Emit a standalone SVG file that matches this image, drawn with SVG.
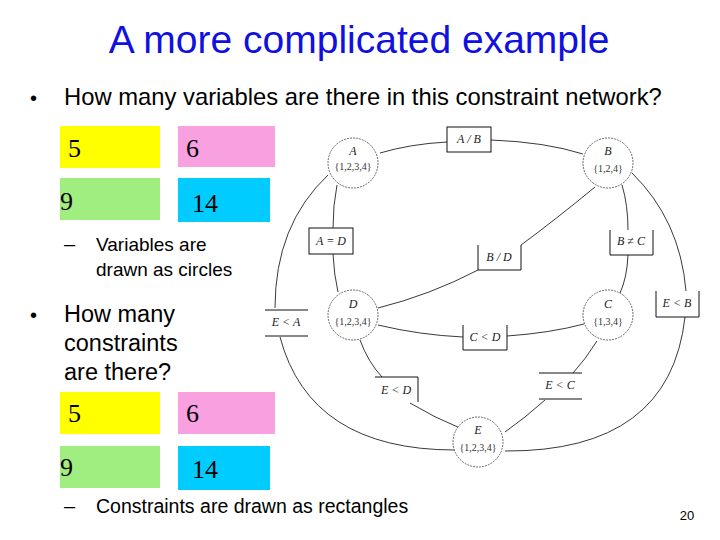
<svg xmlns="http://www.w3.org/2000/svg" width="720" height="540" viewBox="0 0 720 540">
<style>
.t{font-family:"Liberation Sans",Arial,sans-serif;fill:#000}
.n{font-family:"Liberation Serif","Times New Roman",serif;font-size:26px;fill:#000}
.c{fill:#fff;stroke:#444;stroke-width:0.8;stroke-dasharray:2 1}
.b{fill:none;stroke:#111;stroke-width:1}
.e{fill:none;stroke:#222;stroke-width:0.9}
.l{font-family:"Liberation Serif","Times New Roman",serif;font-style:italic;font-size:12px;fill:#222;text-anchor:middle}
.d{font-family:"Liberation Serif","Times New Roman",serif;font-size:10px;fill:#333;text-anchor:middle}
</style>
<rect width="720" height="540" fill="#fff"/>
<text x="359" y="53" text-anchor="middle" class="t" style="fill:#1010e0;font-size:39px">A more complicated example</text>
<text x="30" y="105" class="t" style="font-size:20px">•</text>
<text x="64" y="105" class="t" style="font-size:24px;font-size:23.8px">How many variables are there in this constraint network?</text>
<rect x="60" y="126" width="100" height="42" fill="#ffff00"/>
<rect x="178" y="126" width="97" height="41" fill="#f8a0e0"/>
<rect x="60" y="178" width="100" height="42" fill="#a0ee80"/>
<rect x="178" y="178" width="92" height="44" fill="#00ccff"/>
<text x="68" y="157" class="n">5</text><text x="186" y="157" class="n">6</text>
<text x="60" y="210" class="n">9</text><text x="192" y="212" class="n">14</text>
<text x="64" y="251" class="t" style="font-size:20px">–</text>
<text x="96" y="251" class="t" style="font-size:19px">Variables are</text>
<text x="96" y="276" class="t" style="font-size:19px">drawn as circles</text>
<text x="30" y="322" class="t" style="font-size:20px">•</text>
<text x="64" y="322" class="t" style="font-size:23.5px">How many</text>
<text x="64" y="351" class="t" style="font-size:23.5px">constraints</text>
<text x="64" y="380" class="t" style="font-size:23.5px">are there?</text>
<rect x="60" y="392" width="100" height="42" fill="#ffff00"/>
<rect x="178" y="392" width="97" height="42" fill="#f8a0e0"/>
<rect x="60" y="446" width="100" height="42" fill="#a0ee80"/>
<rect x="178" y="446" width="92" height="44" fill="#00ccff"/>
<text x="68" y="422" class="n">5</text><text x="186" y="422" class="n">6</text>
<text x="60" y="476" class="n">9</text><text x="192" y="478" class="n">14</text>
<text x="64" y="513" class="t" style="font-size:20px">–</text>
<text x="96" y="513" class="t" style="font-size:19.5px">Constraints are drawn as rectangles</text>
<text x="687" y="520" text-anchor="middle" class="t" style="font-size:13px">20</text>
<g id="edges">
<path class="e" d="M380,153 Q410,144 447,142"/>
<path class="e" d="M491,140 Q545,142 583,154"/>
<path class="e" d="M337,185 Q333,205 333,228"/>
<path class="e" d="M333,254 Q334,275 338,292"/>
<path class="e" d="M328,175 Q275,225 275,308"/>
<path class="e" d="M280,337 Q310,450 455,450"/>
<path class="e" d="M595,187 Q555,220 521,245"/>
<path class="e" d="M478,270 Q430,295 378,308"/>
<path class="e" d="M622,185 Q628,205 628,230"/>
<path class="e" d="M628,255 Q627,278 620,293"/>
<path class="e" d="M632,173 Q680,220 686,291"/>
<path class="e" d="M685,317 Q670,452 505,451"/>
<path class="e" d="M378,325 Q420,335 463,337"/>
<path class="e" d="M507,336 Q550,333 584,324"/>
<path class="e" d="M360,340 Q368,362 382,377"/>
<path class="e" d="M410,403 Q435,418 460,428"/>
<path class="e" d="M597,341 Q585,360 573,373"/>
<path class="e" d="M545,400 Q525,418 505,432"/>
</g>
<g id="A"><circle class="c" cx="353" cy="163" r="25"/><text class="l" x="353" y="155">A</text><text class="d" x="353" y="170">{1,2,3,4}</text></g>
<g id="B"><circle class="c" cx="608" cy="163" r="25"/><text class="l" x="608" y="155">B</text><text class="d" x="608" y="172">{1,2,4}</text></g>
<g id="D"><circle class="c" cx="353" cy="315" r="25"/><text class="l" x="353" y="308">D</text><text class="d" x="353" y="325">{1,2,3,4}</text></g>
<g id="C"><circle class="c" cx="608" cy="315" r="25"/><text class="l" x="608" y="308">C</text><text class="d" x="608" y="325">{1,3,4}</text></g>
<g id="E"><circle class="c" cx="478" cy="442" r="25"/><text class="l" x="478" y="434">E</text><text class="d" x="478" y="451">{1,2,3,4}</text></g>
<g id="AB"><rect class="b" x="447" y="127" width="44" height="25"/><text class="l" x="469" y="143">A / B</text></g>
<g id="AD"><rect class="b" x="309" y="228" width="44" height="26"/><text class="l" x="331" y="245">A = D</text></g>
<g id="BD"><path class="b" d="M478,245 V270 H521 V245"/><text class="l" x="499" y="261">B / D</text></g>
<g id="BC"><path class="b" d="M610,230 V255 H653 V230"/><text class="l" x="631" y="245">B ≠ C</text></g>
<g id="EB"><path class="b" d="M656,291 V317 H699 V291"/><text class="l" x="677" y="307">E &lt; B</text></g>
<g id="EA"><path class="b" d="M265,310 H308 M265,336 H308"/><text class="l" x="286" y="326">E &lt; A</text></g>
<g id="CD"><path class="b" d="M463,325 V350 H507 V325"/><text class="l" x="485" y="341">C &lt; D</text></g>
<g id="ED"><path class="b" d="M375,377 H418 V402"/><text class="l" x="396" y="394">E &lt; D</text></g>
<g id="EC"><path class="b" d="M539,373 H582 M539,399 H582"/><text class="l" x="560" y="389">E &lt; C</text></g>
</svg>
